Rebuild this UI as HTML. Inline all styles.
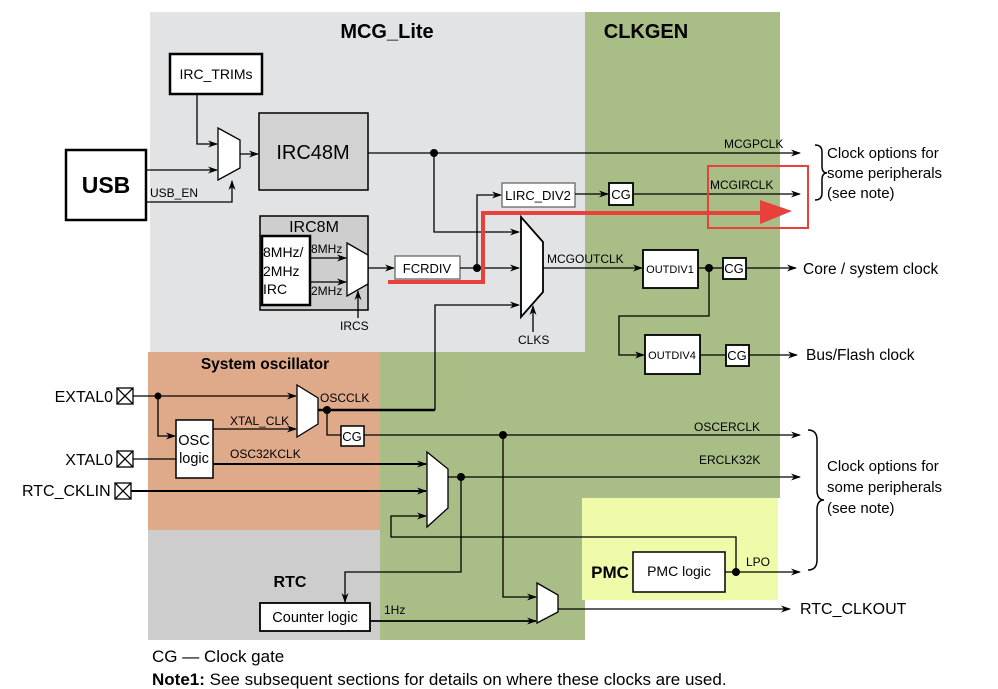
<!DOCTYPE html>
<html><head><meta charset="utf-8"><style>
html,body{margin:0;padding:0;background:#fff}
svg{display:block;font-family:"Liberation Sans",Arial,sans-serif}
</style></head><body>
<svg width="998" height="689" viewBox="0 0 998 689" xmlns="http://www.w3.org/2000/svg">
<defs>
<marker id="a" markerWidth="10" markerHeight="8" refX="9" refY="4" orient="auto" markerUnits="userSpaceOnUse"><path d="M0,0.5 L10,4 L0,7.5 L3,4 Z" fill="#000"/></marker>
</defs>
<rect x="150" y="12" width="435" height="340" fill="#e1e3e4"/>
<rect x="585" y="12" width="195" height="486" fill="#a9bd86"/>
<rect x="380" y="352" width="205" height="288" fill="#a9bd86"/>
<rect x="585" y="352" width="195" height="146" fill="#a9bd86"/>
<rect x="148" y="352" width="232" height="178" fill="#dfaa8a"/>
<rect x="148" y="530" width="232" height="110" fill="#cdcdcd"/>
<rect x="582" y="498" width="196" height="102" fill="#effba9"/>
<text x="387" y="38" font-size="20" font-weight="bold" text-anchor="middle">MCG_Lite</text>
<text x="646" y="38" font-size="20" font-weight="bold" text-anchor="middle">CLKGEN</text>
<text x="265" y="369" font-size="15.5" font-weight="bold" text-anchor="middle">System oscillator</text>
<text x="290" y="587" font-size="16" font-weight="bold" text-anchor="middle">RTC</text>
<text x="610" y="578" font-size="17" font-weight="bold" text-anchor="middle">PMC</text>

<g fill="none" stroke="#000" stroke-width="1.3">
<rect x="66" y="150" width="80" height="70" fill="#fff" stroke-width="2.5"/>
<rect x="170" y="54" width="92" height="40" fill="#fff" stroke-width="2.5"/>
<path d="M146,170 H217" marker-end="url(#a)"/>
<path d="M146,202 H232 V181" marker-end="url(#a)"/>
<path d="M197,94 V144 H217" marker-end="url(#a)"/>
<path d="M218,128 L240,140 L240,168 L218,180 Z" fill="#fff"/>
<path d="M240,154 H258" marker-end="url(#a)"/>
<rect x="259" y="113" width="109" height="77" fill="#d2d2d2" stroke-width="1.5"/>
<path d="M368,153 H800" marker-end="url(#a)"/>
<path d="M434,153 V232 H519" marker-end="url(#a)"/>
<rect x="260" y="216" width="108" height="94" fill="#cecece" stroke-width="1.5"/>
<rect x="262" y="236" width="48" height="69" fill="#fff" stroke-width="2.5"/>
<path d="M310,258 H346" marker-end="url(#a)"/>
<path d="M310,282 H346" marker-end="url(#a)"/>
<path d="M347,243 L368,255 L368,284 L347,296 Z" fill="#fff"/>
<path d="M358,318 V291" marker-end="url(#a)"/>
<path d="M368,268 H394" marker-end="url(#a)"/>
<rect x="395" y="256" width="65" height="23" fill="#fff" stroke="#666"/>
<path d="M460,268 H519" marker-end="url(#a)"/>
<path d="M477,268 V195 H501" marker-end="url(#a)"/>
<rect x="502" y="183" width="73" height="24" fill="#fff" stroke="#666"/>
<path d="M575,194 H608" marker-end="url(#a)"/>
<rect x="609" y="183" width="24" height="22" fill="#fff" stroke-width="1.8"/>
<path d="M633,194 H800" marker-end="url(#a)"/>
<path d="M435,410 V305 H519" marker-end="url(#a)"/>
<path d="M521,217 L543,242 L543,292 L521,317 Z" fill="#fff" stroke-width="1.8"/>
<path d="M533,332 V306" marker-end="url(#a)"/>
<path d="M543,268 H642" marker-end="url(#a)"/>
<rect x="643" y="250" width="55" height="38" fill="#fff" stroke-width="1.8"/>
<path d="M698,268 H722"/>
<rect x="723" y="258" width="23" height="21" fill="#fff" stroke-width="1.8"/>
<path d="M746,268 H796" marker-end="url(#a)"/>
<path d="M709,268 V316 H619 V355 H644" marker-end="url(#a)"/>
<rect x="645" y="335" width="55" height="39" fill="#fff" stroke-width="1.8"/>
<path d="M700,355 H726"/>
<rect x="726" y="345" width="23" height="21" fill="#fff" stroke-width="1.8"/>
<path d="M749,355 H797" marker-end="url(#a)"/>
<rect x="117" y="388" width="16" height="16" fill="#fff"/><path d="M117,388 L133,404 M133,388 L117,404"/>
<rect x="117" y="451" width="16" height="16" fill="#fff"/><path d="M117,451 L133,467 M133,451 L117,467"/>
<rect x="115" y="483" width="16" height="16" fill="#fff"/><path d="M115,483 L131,499 M131,483 L115,499"/>
<path d="M133,396 H296" marker-end="url(#a)"/>
<path d="M158,396 V436 H175" marker-end="url(#a)"/>
<rect x="176" y="420" width="37" height="58" fill="#fff" stroke-width="1.5"/>
<path d="M213,429 H296" marker-end="url(#a)"/>
<path d="M133,459 H176"/>
<path d="M297,385 L318,398 L318,424 L297,437 Z" fill="#fff"/>
<path d="M318,410 H435" stroke-width="2.5"/>
<path d="M327,410 V435 H341"/>
<rect x="341" y="426" width="23" height="20" fill="#fff" stroke-width="1.5"/>
<path d="M364,435 H800" marker-end="url(#a)"/>
<path d="M213,464 H426" stroke-width="2" marker-end="url(#a)"/>
<path d="M131,491 H426" stroke-width="2" marker-end="url(#a)"/>
<path d="M427,452 L448,469 L448,508 L427,527 Z" fill="#fff"/>
<path d="M448,477 H800" marker-end="url(#a)"/>
<path d="M461,477 V572 H345 V602" marker-end="url(#a)"/>
<path d="M736,572 V537 H391 V516 H426" marker-end="url(#a)"/>
<rect x="633" y="552" width="92" height="40" fill="#fff" stroke-width="1.5"/>
<path d="M725,572 H800" marker-end="url(#a)"/>
<path d="M503,435 V597 H536" marker-end="url(#a)"/>
<path d="M537,583 L558,595 L558,612 L537,623 Z" fill="#fff"/>
<path d="M558,609 H790" marker-end="url(#a)"/>
<rect x="260" y="603" width="110" height="28" fill="#fff" stroke-width="1.8"/>
<path d="M370,621 H536" stroke-width="1.8" marker-end="url(#a)"/>
<path d="M815,145 Q822,145 822,152 V166 Q822,173 827,173 Q822,173 822,180 V193 Q822,200 815,200" stroke-width="1.5"/>
<path d="M808,430 Q817,430 817,440 V490 Q817,500 824,500 Q817,500 817,510 V560 Q817,570 808,570" stroke-width="1.5"/>
</g>
<g fill="#000">
<circle cx="434" cy="153" r="4"/><circle cx="477" cy="268" r="4"/><circle cx="709" cy="268" r="4"/>
<circle cx="158" cy="396" r="3.5"/><circle cx="327" cy="410" r="4"/><circle cx="503" cy="435" r="4"/>
<circle cx="461" cy="477" r="4"/><circle cx="736" cy="572" r="4"/>
</g>
<path d="M388,282 H483 V213 H762" fill="none" stroke="#e8413c" stroke-width="4"/>
<path d="M760,200 L792,211 L760,224 Z" fill="#e8413c"/>
<rect x="708" y="166" width="100" height="62" fill="none" stroke="#e8413c" stroke-width="2"/>
<g font-size="12">
<text x="106" y="193" font-size="23" font-weight="bold" text-anchor="middle">USB</text>
<text x="216" y="79" font-size="14" text-anchor="middle">IRC_TRIMs</text>
<text x="313" y="159" font-size="20" text-anchor="middle">IRC48M</text>
<text x="150" y="197">USB_EN</text>
<text x="314" y="232" font-size="16" text-anchor="middle">IRC8M</text>
<text x="263" y="257" font-size="14">8MHz/</text>
<text x="263" y="276" font-size="14">2MHz</text>
<text x="263" y="294" font-size="14">IRC</text>
<text x="311" y="253">8MHz</text>
<text x="311" y="295">2MHz</text>
<text x="340" y="330">IRCS</text>
<text x="427" y="273" font-size="13" text-anchor="middle">FCRDIV</text>
<text x="538" y="200" font-size="13" text-anchor="middle">LIRC_DIV2</text>
<text x="621" y="199" font-size="13" text-anchor="middle">CG</text>
<text x="518" y="344">CLKS</text>
<text x="547" y="263">MCGOUTCLK</text>
<text x="670" y="273" font-size="11" text-anchor="middle">OUTDIV1</text>
<text x="734" y="273" font-size="13" text-anchor="middle">CG</text>
<text x="672" y="359" font-size="11" text-anchor="middle">OUTDIV4</text>
<text x="737" y="360" font-size="13" text-anchor="middle">CG</text>
<text x="724" y="148">MCGPCLK</text>
<text x="710" y="189">MCGIRCLK</text>
<text x="803" y="274" font-size="15.5">Core / system clock</text>
<text x="806" y="360" font-size="15.5">Bus/Flash clock</text>
<text x="827" y="158" font-size="15">Clock options for</text>
<text x="827" y="178" font-size="15">some peripherals</text>
<text x="827" y="198" font-size="15">(see note)</text>
<text x="827" y="471" font-size="15">Clock options for</text>
<text x="827" y="492" font-size="15">some peripherals</text>
<text x="827" y="513" font-size="15">(see note)</text>
<text x="113" y="402" font-size="16" text-anchor="end">EXTAL0</text>
<text x="113" y="465" font-size="16" text-anchor="end">XTAL0</text>
<text x="22" y="496" font-size="16">RTC_CKLIN</text>
<text x="194" y="445" font-size="14.5" text-anchor="middle">OSC</text>
<text x="194" y="463" font-size="14.5" text-anchor="middle">logic</text>
<text x="230" y="425">XTAL_CLK</text>
<text x="320" y="402">OSCCLK</text>
<text x="352" y="441" font-size="13" text-anchor="middle">CG</text>
<text x="230" y="458">OSC32KCLK</text>
<text x="694" y="431">OSCERCLK</text>
<text x="699" y="464">ERCLK32K</text>
<text x="679" y="576" font-size="14" text-anchor="middle">PMC logic</text>
<text x="746" y="566">LPO</text>
<text x="315" y="622" font-size="14.5" text-anchor="middle">Counter logic</text>
<text x="384" y="614">1Hz</text>
<text x="800" y="614" font-size="16">RTC_CLKOUT</text>
<text x="152" y="662" font-size="17">CG — Clock gate</text>
<text x="152" y="685" font-size="17"><tspan font-weight="bold">Note1:</tspan> See subsequent sections for details on where these clocks are used.</text>
</g>
</svg>
</body></html>
